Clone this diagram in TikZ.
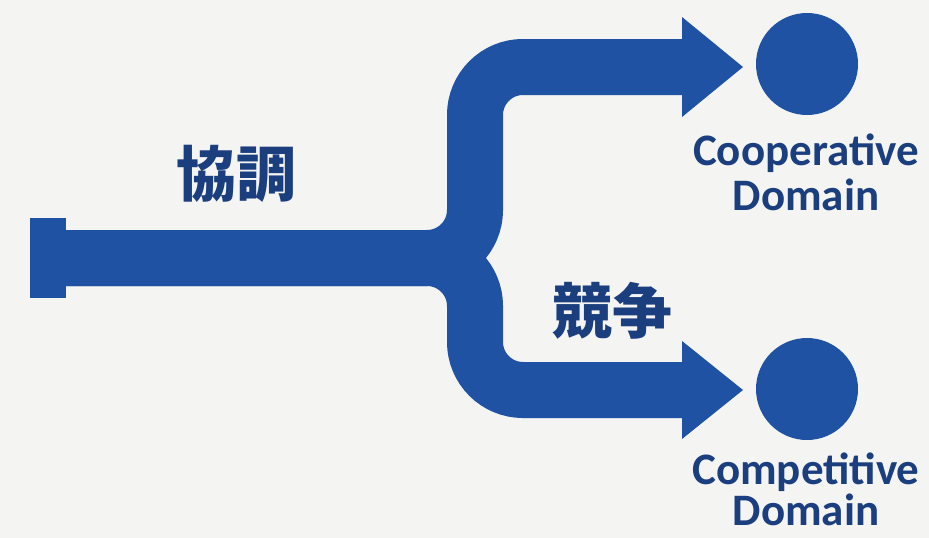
\documentclass[tikz,border=0pt]{standalone}
\usepackage{fontspec}
\newfontfamily\lab{Carlito}
\newfontfamily\cjk{Noto Sans CJK JP}
\definecolor{bg}{HTML}{F4F4F2}
\definecolor{flow}{HTML}{1F52A3}
\definecolor{ink}{HTML}{1B3E7E}
\begin{document}
\begin{tikzpicture}[x=1pt,y=-1pt,
  flowline/.style={draw=flow,line width=56pt,rounded corners=48pt},
  headtri/.style={fill=flow},
  domcircle/.style={circle,fill=flow,minimum size=102pt,inner sep=0pt},
  capbox/.style={rectangle,fill=flow,minimum width=36pt,minimum height=80pt,inner sep=0pt},
  dlabel/.style={font=\lab\bfseries\fontsize{45}{40}\selectfont,text=ink,align=center,anchor=base,inner sep=0pt},
  jlabel/.style={font=\cjk\bfseries\fontsize{60}{60}\selectfont,text=ink,inner sep=0pt}]
\fill[bg] (0,0) rectangle (929,538);
\useasboundingbox (0,0) rectangle (929,538);
\node[capbox] (src) at (48,258) {};
\node[domcircle] (coop) at (807,64) {};
\node[domcircle] (comp) at (807,389) {};
\coordinate (split) at (475,258);
\coordinate (hu) at (683,67);
\coordinate (hl) at (683,390);
\draw[flowline] ([xshift=-2pt]src.east) -- (split) -- (split |- hu) -- (hu);
\draw[flowline] ([xshift=-2pt]src.east) -- (split) -- (split |- hl) -- (hl);
\fill[headtri] ([xshift=-1pt]hu) ++(0,-50) -- ++(61,50) -- ++(-61,50) -- cycle;
\fill[headtri] ([xshift=-1pt]hl) ++(0,-49) -- ++(61,49) -- ++(-61,49) -- cycle;
\node[dlabel] (coopt) at (806,210) {Cooperative\\[5pt]Domain};
\node[dlabel] (compt) at (806,525) {Competitive\\[1pt]Domain};
\node[jlabel] (kyocho) at (236,174) {協調};
\node[jlabel] (kyoso) at (612,311) {競争};
\end{tikzpicture}
\end{document}
